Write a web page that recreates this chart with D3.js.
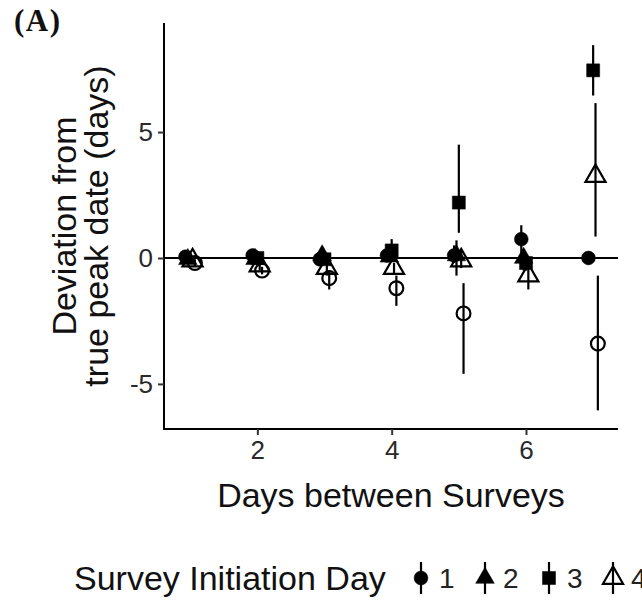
<!DOCTYPE html>
<html>
<head>
<meta charset="utf-8">
<script src="https://cdn.jsdelivr.net/npm/d3@7"></script>
<style>
  html, body { margin: 0; padding: 0; background: #fff; }
  svg { display: block; }
</style>
</head>
<body>
<svg id="chart" width="642" height="602"></svg>
<script>
// ---- data ----
const days = [1, 2, 3, 4, 5, 6, 7];
const xTicks = [2, 4, 6];
const yTicks = [-5, 0, 5];
const initiationDays = ["1", "2", "3", "4", "5"];

const dev1 = [0.05, 0.1, -0.05, 0.1, 0.1, 0.75, 0.0];
const lo1  = [-0.1, -0.05, -0.2, -0.05, -0.2, 0.2, -0.1];
const hi1  = [0.2, 0.25, 0.1, 0.25, 0.5, 1.3, 0.1];

const dev2 = [-0.05, -0.05, 0.1, 0.05, 0.1, 0.0, null];
const lo2  = [-0.2, -0.2, -0.1, -0.15, -0.7, -0.5, null];
const hi2  = [0.1, 0.1, 0.45, 0.3, 0.7, 0.3, null];

const dev3 = [null, 0.0, -0.05, 0.3, 2.2, -0.2, 7.45];
const lo3  = [null, -0.15, -0.2, 0.0, 1.0, -0.5, 6.45];
const hi3  = [null, 0.15, 0.1, 0.75, 4.5, 0.1, 8.45];

const dev4 = [-0.1, -0.3, -0.4, -0.4, -0.1, -0.7, 3.25];
const lo4  = [-0.2, -0.5, -0.7, -0.6, -0.4, -1.25, 0.85];
const hi4  = [0.0, -0.1, -0.1, -0.2, 0.3, -0.3, 6.15];

const dev5 = [-0.2, -0.5, -0.8, -1.2, -2.2, null, -3.4];
const lo5  = [-0.35, -0.65, -1.25, -1.9, -4.6, null, -6.05];
const hi5  = [-0.05, -0.35, -0.5, -0.7, -1.0, null, -0.7];

const devs = [dev1, dev2, dev3, dev4, dev5];
const los = [lo1, lo2, lo3, lo4, lo5];
const his = [hi1, hi2, hi3, hi4, hi5];

// ---- styling ----
const FONT = "'Liberation Sans', Arial, Helvetica, sans-serif";
const shapeType = [d3.symbolCircle, d3.symbolTriangle, d3.symbolSquare, d3.symbolTriangle, d3.symbolCircle];
const shapeSize = [150, 150, 170, 175, 150];
const shapeFilled = [true, true, true, false, false];

const svg = d3.select("#chart");
const panel = { left: 164, right: 618, top: 23, bottom: 429 };

const x = d3.scaleLinear().domain([0.61, 7.37]).range([panel.left, panel.right]);
const y = d3.scaleLinear().domain([-6.79, 9.33]).range([panel.bottom, panel.top]);
const dodge = d3.scalePoint().domain(initiationDays).range([-0.07, 0.07]);

// (A) label
svg.append("text")
  .attr("x", 14).attr("y", 31)
  .attr("font-family", "'Liberation Serif', 'Times New Roman', serif")
  .attr("font-weight", "bold")
  .attr("font-size", 31)
  .attr("letter-spacing", 1.5)
  .attr("fill", "#111")
  .text("(A)");

// zero reference line
svg.append("line")
  .attr("x1", panel.left).attr("x2", panel.right)
  .attr("y1", y(0)).attr("y2", y(0))
  .attr("stroke", "#000").attr("stroke-width", 2);

// axes
const yAxis = svg.append("g")
  .attr("transform", `translate(${panel.left},0)`)
  .call(d3.axisLeft(y).tickValues(yTicks).tickSize(6).tickSizeOuter(0).tickPadding(5)
        .tickFormat(d => d < 0 ? "-" + Math.abs(d) : String(d)));
const xAxis = svg.append("g")
  .attr("transform", `translate(0,${panel.bottom})`)
  .call(d3.axisBottom(x).tickValues(xTicks).tickSize(6).tickSizeOuter(0).tickPadding(6)
        .tickFormat(d3.format("d")));

[yAxis, xAxis].forEach(g => {
  g.select(".domain").attr("stroke", "#000").attr("stroke-width", 2);
  g.selectAll(".tick line").attr("stroke", "#333").attr("stroke-width", 2);
  g.selectAll(".tick text").attr("font-family", FONT).attr("font-size", 26).attr("fill", "#2a2a2a");
});
yAxis.select(".domain").attr("d", `M0,${panel.top}V${panel.bottom}`);
xAxis.select(".domain").attr("d", `M${panel.left - 1},0H${panel.right}`);

// axis titles
svg.append("text")
  .attr("x", (panel.left + panel.right) / 2).attr("y", 507)
  .attr("text-anchor", "middle")
  .attr("font-family", FONT).attr("font-size", 34).attr("fill", "#111")
  .text("Days between Surveys");

const yTitle = svg.append("text")
  .attr("transform", `translate(0,${(panel.top + panel.bottom) / 2}) rotate(-90)`)
  .attr("text-anchor", "middle")
  .attr("font-family", FONT).attr("font-size", 34).attr("fill", "#111");
yTitle.append("tspan").attr("x", 0).attr("y", 76).text("Deviation from");
yTitle.append("tspan").attr("x", 0).attr("y", 108).text("true peak date (days)");

// points and ranges
initiationDays.forEach((s, si) => {
  const g = svg.append("g").attr("class", "series-" + s);
  days.forEach((d, di) => {
    const v = devs[si][di];
    if (v == null) return;
    const px = x(d + dodge(s));
    g.append("line")
      .attr("x1", px).attr("x2", px)
      .attr("y1", y(los[si][di])).attr("y2", y(his[si][di]))
      .attr("stroke", "#000").attr("stroke-width", 2.2);
    g.append("path")
      .attr("transform", `translate(${px},${y(v)})`)
      .attr("d", d3.symbol().type(shapeType[si]).size(shapeSize[si])())
      .attr("fill", shapeFilled[si] ? "#000" : "none")
      .attr("stroke", "#000")
      .attr("stroke-width", shapeFilled[si] ? 0.5 : 2.2);
  });
});

// legend
const legY = 578;
svg.append("text")
  .attr("x", 74).attr("y", legY + 12)
  .attr("font-family", FONT).attr("font-size", 34).attr("fill", "#111")
  .text("Survey Initiation Day");
const legX = d3.scalePoint().domain(initiationDays).range([421, 421 + 64 * 4]);
initiationDays.forEach((s, si) => {
  const cx = legX(s);
  const g = svg.append("g");
  g.append("line")
    .attr("x1", cx).attr("x2", cx)
    .attr("y1", legY - 16).attr("y2", legY + 16)
    .attr("stroke", "#000").attr("stroke-width", 2.2);
  g.append("path")
    .attr("transform", `translate(${cx},${legY})`)
    .attr("d", d3.symbol().type(shapeType[si]).size(shapeSize[si])())
    .attr("fill", shapeFilled[si] ? "#000" : "none")
    .attr("stroke", "#000")
    .attr("stroke-width", shapeFilled[si] ? 0.5 : 2.2);
  g.append("text")
    .attr("x", cx + 18).attr("y", legY + 10)
    .attr("font-family", FONT).attr("font-size", 28).attr("fill", "#222")
    .text(s);
});
</script>
</body>
</html>
